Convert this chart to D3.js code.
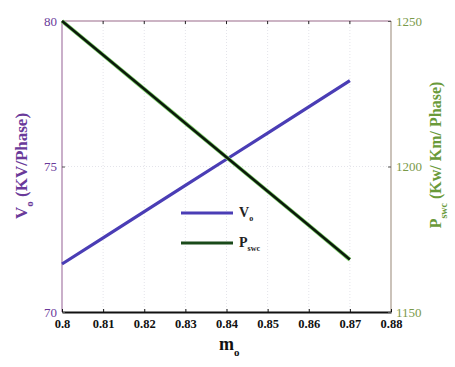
<!DOCTYPE html>
<html>
<head>
<meta charset="utf-8">
<script src="https://cdn.jsdelivr.net/npm/d3@7"></script>
</head>
<body style="margin:0; background:#fff">
<svg id="chart" width="455" height="367"></svg>
<script>
const mo = [0.80, 0.81, 0.82, 0.83, 0.84, 0.85, 0.86, 0.87];
const vo = [71.65, 72.55, 73.45, 74.35, 75.25, 76.15, 77.05, 77.95];
const pswc = [1250, 1238.3, 1226.6, 1214.9, 1203.2, 1191.5, 1179.8, 1168];
const xTicks = [0.80, 0.81, 0.82, 0.83, 0.84, 0.85, 0.86, 0.87, 0.88];
const leftTicks = [70, 75, 80];
const rightTicks = [1150, 1200, 1250];

const FONT = 'Liberation Serif'
const L = 62, R = 391, T = 21, B = 312;
const svg = d3.select('#chart');

const x = d3.scaleLinear().domain([0.8, 0.88]).range([L, R]);
const yL = d3.scaleLinear().domain([70, 80]).range([B, T]);
const yR = d3.scaleLinear().domain([1150, 1250]).range([B, T]);

// grid
svg.append('g')
  .selectAll('line')
  .data(xTicks.slice(1, -1))
  .enter()
  .append('line')
  .attr('x1', d => x(d)).attr('x2', d => x(d))
  .attr('y1', T).attr('y2', B)
  .attr('stroke', '#e4e4ea')
  .attr('stroke-dasharray', '1,2')
svg.append('line')
  .attr('x1', L).attr('x2', R)
  .attr('y1', yL(75)).attr('y2', yL(75))
  .attr('stroke', '#e4e4ea')
  .attr('stroke-dasharray', '1,2')

// frame
svg.append('line').attr('x1', L).attr('x2', R).attr('y1', T).attr('y2', T).attr('stroke', '#9a6a8a').attr('stroke-width', 1.2)
svg.append('line').attr('x1', L).attr('x2', L).attr('y1', T).attr('y2', B).attr('stroke', '#a67aa6').attr('stroke-width', 1.2)
svg.append('line').attr('x1', R).attr('x2', R).attr('y1', T).attr('y2', B).attr('stroke', '#a89a8c').attr('stroke-width', 1.2)

// bottom axis
const xAxis = svg.append('g')
  .attr('transform', `translate(0,${B})`)
  .call(d3.axisBottom(x).tickValues(xTicks).tickSizeInner(-3).tickSizeOuter(0).tickPadding(7)
    .tickFormat(d => d === 0.8 ? '0.8' : d3.format('.2f')(d)))
xAxis.select('.domain').attr('stroke', '#111').attr('stroke-width', 2)
xAxis.selectAll('.tick line').attr('stroke', '#111')
xAxis.selectAll('text').attr('font-family', FONT).attr('font-size', 12.5).attr('font-weight', 'bold').attr('fill', '#111')

// top ticks
svg.append('g')
  .selectAll('line')
  .data(xTicks.slice(1, -1))
  .enter()
  .append('line')
  .attr('x1', d => x(d)).attr('x2', d => x(d))
  .attr('y1', T).attr('y2', T + 3)
  .attr('stroke', '#222')

// left axis
const leftAxis = svg.append('g')
  .attr('transform', `translate(${L},0)`)
  .call(d3.axisLeft(yL).tickValues(leftTicks).tickSizeInner(-3).tickSizeOuter(0).tickPadding(5))
leftAxis.select('.domain').remove()
leftAxis.selectAll('.tick line').attr('stroke', '#555')
leftAxis.selectAll('text').attr('font-family', FONT).attr('font-size', 13).attr('fill', '#6a3a9a')

// right axis
const rightAxis = svg.append('g')
  .attr('transform', `translate(${R},0)`)
  .call(d3.axisRight(yR).tickValues(rightTicks).tickFormat(d3.format('d')).tickSizeInner(-3).tickSizeOuter(0).tickPadding(5))
rightAxis.select('.domain').remove()
rightAxis.selectAll('.tick line').attr('stroke', '#555')
rightAxis.selectAll('text').attr('font-family', FONT).attr('font-size', 13).attr('fill', '#7a9a4a')

// lines
const voLine = d3.line().x((d, i) => x(mo[i])).y(d => yL(d))
const pLine = d3.line().x((d, i) => x(mo[i])).y(d => yR(d))

svg.append('path').datum(vo).attr('d', voLine).attr('fill', 'none').attr('stroke', '#4a3db5').attr('stroke-width', 3.2)
svg.append('path').datum(pswc).attr('d', pLine).attr('fill', 'none').attr('stroke', '#7ed06a').attr('stroke-width', 4)
svg.append('path').datum(pswc).attr('d', pLine).attr('fill', 'none').attr('stroke', '#0b1a0b').attr('stroke-width', 2.6)

// legend
const legend = svg.append('g')
legend.append('line').attr('x1', 181).attr('x2', 233).attr('y1', 213).attr('y2', 213).attr('stroke', '#4a3db5').attr('stroke-width', 3.2)
legend.append('line').attr('x1', 181).attr('x2', 233).attr('y1', 243).attr('y2', 243).attr('stroke', '#1a4a1a').attr('stroke-width', 3.2)
const lt1 = legend.append('text').attr('font-family', FONT).attr('x', 239).attr('y', 217).attr('font-size', 14).attr('font-weight', 'bold').attr('fill', '#222')
lt1.append('tspan').text('V')
lt1.append('tspan').attr('font-size', 8).attr('dy', 4).text('o')
const lt2 = legend.append('text').attr('font-family', FONT).attr('x', 239).attr('y', 247).attr('font-size', 14).attr('font-weight', 'bold').attr('fill', '#222')
lt2.append('tspan').text('P')
lt2.append('tspan').attr('font-size', 8).attr('dy', 4).text('swc')

// axis titles
const xt = svg.append('text').attr('font-family', FONT).attr('x', 219).attr('y', 350).attr('font-size', 18).attr('font-weight', 'bold').attr('fill', '#111')
xt.append('tspan').text('m')
xt.append('tspan').attr('font-size', 11).attr('dy', 6).text('o')

const ylt = svg.append('text').attr('font-family', FONT)
  .attr('transform', 'translate(27,166) rotate(-90)')
  .attr('text-anchor', 'middle')
  .attr('font-size', 17).attr('font-weight', 'bold').attr('fill', '#6a3a9a')
ylt.append('tspan').text('V')
ylt.append('tspan').attr('font-size', 11).attr('dy', 6).text('o')
ylt.append('tspan').attr('dy', -6).text('\u00a0(KV/Phase)')

const yrt = svg.append('text').attr('font-family', FONT)
  .attr('transform', 'translate(441,155) rotate(-90)')
  .attr('text-anchor', 'middle')
  .attr('font-size', 16).attr('font-weight', 'bold').attr('fill', '#6a9a3a')
yrt.append('tspan').text('P')
yrt.append('tspan').attr('font-size', 10).attr('dy', 6).text('swc')
yrt.append('tspan').attr('dy', -6).text('\u00a0(Kw/ Km/ Phase)')
</script>
</body>
</html>
